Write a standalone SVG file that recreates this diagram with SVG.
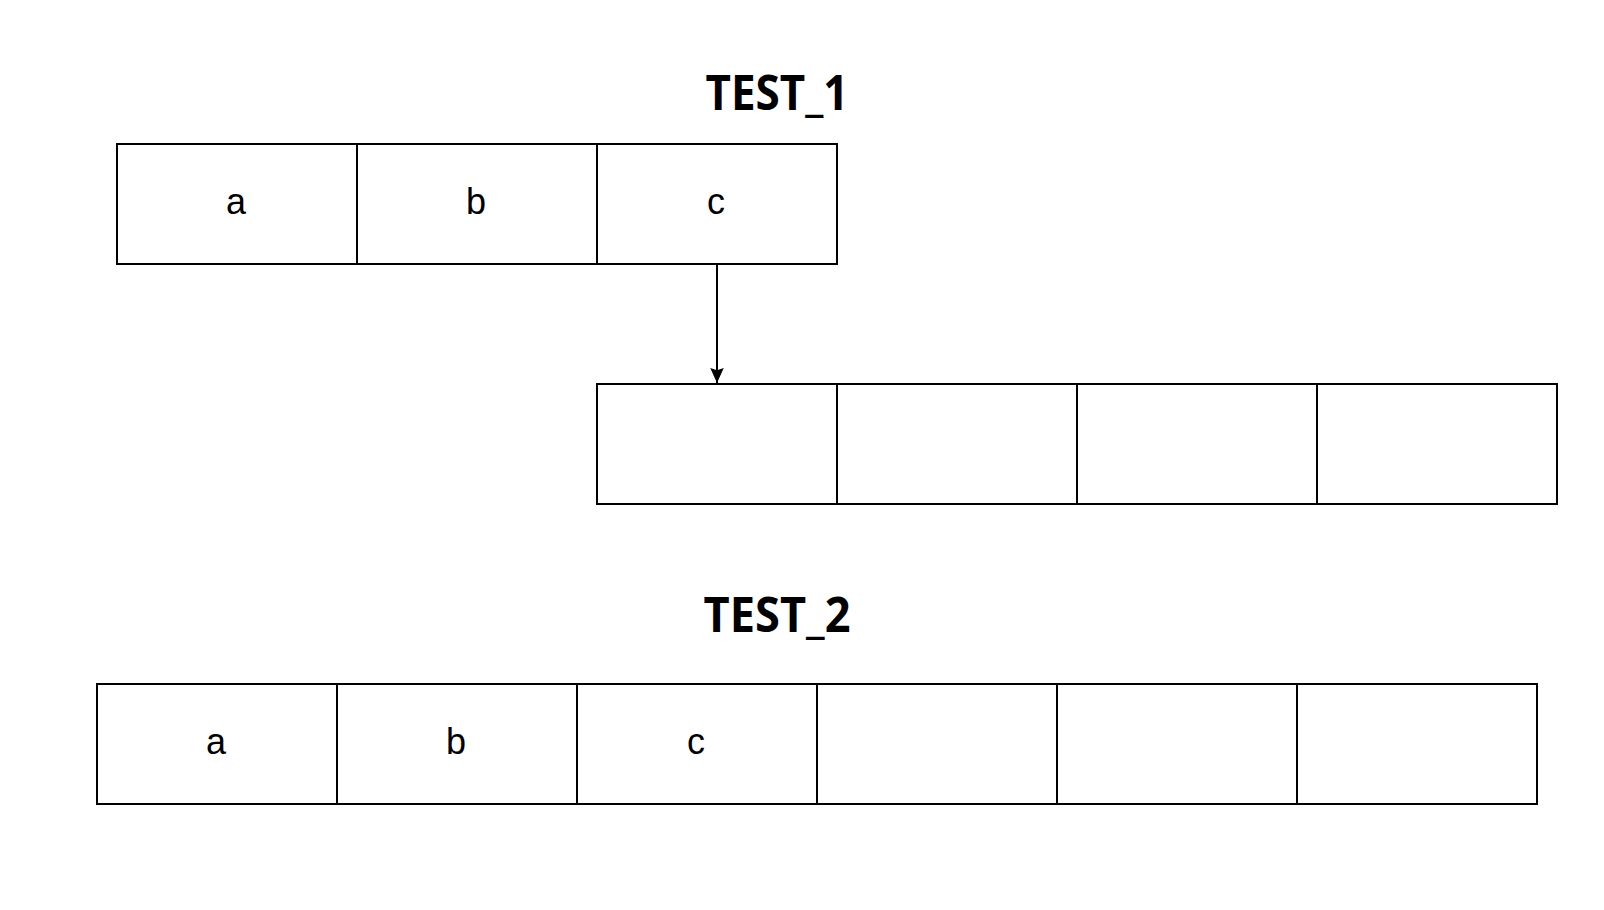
<svg xmlns="http://www.w3.org/2000/svg" width="1604" height="910" viewBox="0 0 1604 910">
<defs>
<style>
.cell{fill:#fff;stroke:#000;stroke-width:2}
.lbl{font-family:"Liberation Sans",Arial,sans-serif;font-size:36px;fill:#000;text-anchor:middle}
.title{font-family:"Open Sans","DejaVu Sans",sans-serif;font-weight:bold;font-size:48px;fill:#000;text-anchor:middle}
.conn{stroke:#000;stroke-width:2;fill:none}
</style>
<marker id="arr" viewBox="0 0 10 10" refX="10" refY="5" markerWidth="15" markerHeight="15" markerUnits="userSpaceOnUse" orient="auto">
<path d="M0,0.5 L10,5 L0,9.5 L1.5,5 Z" fill="#000"/>
</marker>
</defs>
<rect width="1604" height="910" fill="#fff"/>
<g id="title1"><text class="title" x="777" y="110" textLength="143" lengthAdjust="spacingAndGlyphs">TEST_1</text></g>
<g id="title2"><text class="title" x="777" y="632" textLength="147" lengthAdjust="spacingAndGlyphs">TEST_2</text></g>
<g id="row1">
<g id="r1a"><rect class="cell" x="117" y="144" width="240" height="120"/><text class="lbl" x="236" y="214">a</text></g>
<g id="r1b"><rect class="cell" x="357" y="144" width="240" height="120"/><text class="lbl" x="476" y="214">b</text></g>
<g id="r1c"><rect class="cell" x="597" y="144" width="240" height="120"/><text class="lbl" x="716" y="214">c</text></g>
</g>
<g id="row2">
<g id="r2a"><rect class="cell" x="597" y="384" width="240" height="120"/></g>
<g id="r2b"><rect class="cell" x="837" y="384" width="240" height="120"/></g>
<g id="r2c"><rect class="cell" x="1077" y="384" width="240" height="120"/></g>
<g id="r2d"><rect class="cell" x="1317" y="384" width="240" height="120"/></g>
</g>
<g id="row3">
<g id="r3a"><rect class="cell" x="97" y="684" width="240" height="120"/><text class="lbl" x="216" y="754">a</text></g>
<g id="r3b"><rect class="cell" x="337" y="684" width="240" height="120"/><text class="lbl" x="456" y="754">b</text></g>
<g id="r3c"><rect class="cell" x="577" y="684" width="240" height="120"/><text class="lbl" x="696" y="754">c</text></g>
<g id="r3d"><rect class="cell" x="817" y="684" width="240" height="120"/></g>
<g id="r3e"><rect class="cell" x="1057" y="684" width="240" height="120"/></g>
<g id="r3f"><rect class="cell" x="1297" y="684" width="240" height="120"/></g>
</g>
<g id="connectors">
<line class="conn" x1="717" y1="264" x2="717" y2="383" marker-end="url(#arr)"/>
</g>
</svg>
